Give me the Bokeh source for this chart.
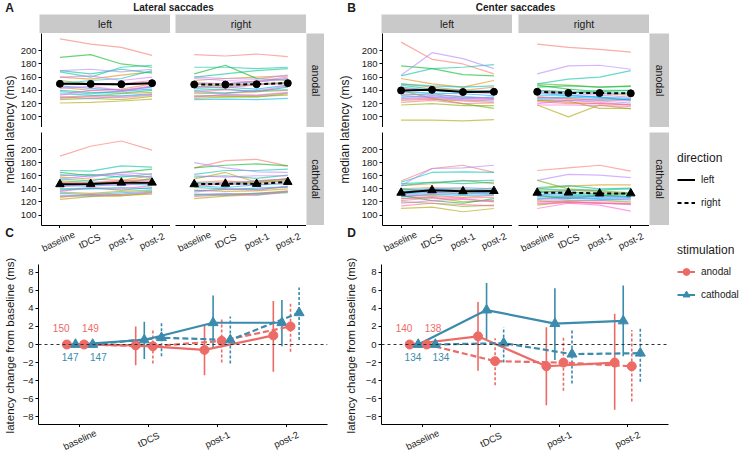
import math
from bokeh.plotting import figure
from bokeh.layouts import row, column
from bokeh.models import (Range1d, LinearAxis, FixedTicker, ColumnDataSource, Label,
                          Span, Legend, LegendItem, Spacer)
from bokeh.embed import file_html
from bokeh.resources import INLINE
from bokeh.core.properties import value

# ---------------- data ----------------
timepoints = ["baseline", "tDCS", "post-1", "post-2"]
time_x = [1, 2, 3, 4]

# individual subjects, median latency (ms); rows = subjects, cols = timepoints
lat_left_anodal = [
    [218, 210, 205, 193], [145, 140, 142, 150], [160, 157, 163, 168], [130, 132, 135, 137],
    [121, 122, 124, 127], [126, 128, 126, 131], [155, 150, 148, 152], [190, 194, 180, 175],
    [140, 137, 136, 140], [170, 165, 172, 166], [168, 160, 175, 178], [150, 155, 158, 170],
    [135, 133, 132, 135], [147, 143, 140, 145], [138, 135, 139, 142], [130, 128, 131, 134],
    [170, 172, 168, 172], [160, 162, 155, 160], [143, 146, 140, 147], [133, 140, 138, 146],
    [152, 148, 150, 155], [128, 131, 129, 133]]
lat_right_anodal = [
    [194, 192, 195, 191], [150, 146, 148, 152], [155, 158, 160, 162], [135, 136, 138, 140],
    [128, 130, 131, 133], [132, 131, 130, 135], [145, 148, 150, 152], [165, 178, 158, 155],
    [140, 142, 138, 145], [160, 165, 170, 173], [175, 175, 173, 175], [150, 150, 153, 158],
    [126, 127, 126, 128], [143, 145, 142, 148], [138, 136, 140, 141], [131, 133, 132, 136],
    [160, 158, 157, 163], [158, 155, 153, 157], [146, 144, 149, 150], [137, 141, 139, 147],
    [152, 150, 154, 160], [130, 134, 133, 137]]
lat_left_cathodal = [
    [190, 205, 213, 199], [150, 148, 152, 155], [158, 155, 153, 160], [135, 133, 136, 138],
    [124, 128, 130, 132], [128, 130, 129, 134], [152, 150, 148, 156], [165, 160, 165, 170],
    [140, 141, 138, 142], [160, 162, 158, 163], [168, 167, 175, 173], [155, 152, 160, 158],
    [133, 131, 134, 136], [145, 144, 147, 146], [138, 140, 142, 140], [130, 129, 132, 135],
    [162, 158, 165, 162], [155, 160, 162, 158], [143, 147, 145, 150], [136, 142, 140, 145],
    [148, 150, 152, 153], [127, 132, 131, 134]]
lat_right_cathodal = [
    [172, 183, 185, 175], [150, 152, 148, 154], [155, 165, 150, 156], [138, 136, 137, 140],
    [125, 129, 131, 134], [130, 132, 133, 137], [148, 146, 150, 152], [172, 176, 178, 175],
    [142, 140, 139, 143], [158, 160, 156, 161], [162, 168, 168, 170], [150, 148, 152, 155],
    [132, 130, 133, 135], [145, 142, 146, 148], [137, 139, 141, 143], [131, 133, 130, 136],
    [180, 172, 166, 165], [160, 158, 160, 160], [144, 148, 146, 150], [135, 140, 138, 144],
    [147, 150, 152, 155], [128, 131, 132, 136]]
cen_left_anodal = [
    [213, 187, 180, 165], [150, 145, 140, 145], [158, 150, 145, 155], [125, 127, 124, 122],
    [95, 95, 94, 96], [118, 120, 117, 117], [140, 128, 120, 113], [177, 173, 164, 162],
    [133, 135, 130, 128], [148, 142, 140, 138], [162, 173, 175, 179], [150, 147, 145, 147],
    [145, 140, 138, 140], [130, 132, 128, 130], [138, 136, 135, 132], [128, 130, 126, 124],
    [163, 197, 188, 173], [135, 133, 131, 128], [132, 130, 128, 127], [127, 128, 125, 126],
    [143, 140, 138, 135], [122, 125, 120, 121]]
cen_right_anodal = [
    [210, 205, 202, 198], [140, 138, 135, 133], [125, 122, 120, 118], [130, 128, 125, 127],
    [118, 100, 118, 112], [125, 124, 113, 113], [150, 148, 145, 147], [148, 142, 138, 140],
    [145, 147, 145, 146], [138, 136, 140, 140], [150, 157, 160, 170], [140, 138, 136, 136],
    [135, 133, 130, 128], [128, 130, 128, 126], [132, 132, 130, 125], [127, 125, 124, 121],
    [165, 177, 178, 172], [136, 135, 133, 130], [120, 125, 122, 118], [118, 118, 117, 116],
    [130, 127, 126, 124], [123, 120, 120, 119]]
cen_left_cathodal = [
    [152, 171, 176, 165], [140, 142, 140, 138], [145, 148, 153, 148], [128, 130, 127, 130],
    [110, 112, 105, 110], [125, 127, 120, 122], [120, 118, 113, 115], [130, 122, 118, 125],
    [140, 135, 132, 135], [148, 150, 148, 150], [150, 165, 166, 165], [145, 150, 152, 153],
    [138, 140, 138, 141], [132, 135, 136, 133], [128, 132, 130, 131], [135, 140, 142, 140],
    [145, 171, 172, 176], [130, 133, 135, 132], [118, 122, 125, 120], [125, 128, 126, 127],
    [122, 126, 124, 121], [114, 118, 116, 114]]
cen_right_cathodal = [
    [168, 172, 176, 167], [135, 138, 135, 133], [140, 144, 146, 146], [125, 128, 130, 128],
    [115, 120, 118, 117], [120, 122, 122, 120], [153, 140, 137, 134], [130, 125, 130, 128],
    [137, 135, 132, 133], [142, 145, 140, 141], [140, 138, 138, 140], [135, 132, 130, 132],
    [128, 127, 125, 126], [132, 130, 128, 127], [124, 126, 124, 123], [130, 128, 127, 129],
    [153, 162, 161, 157], [126, 123, 122, 125], [118, 120, 118, 116], [110, 118, 115, 106],
    [122, 120, 119, 118], [117, 119, 118, 117]]

# group means (ms)
lat_left_anodal_mean = [150, 149.8, 149.4, 151.0]
lat_right_anodal_mean = [149, 148.8, 149.4, 151.0]
lat_left_cathodal_mean = [147, 147.5, 149.4, 149.4]
lat_right_cathodal_mean = [147, 147.8, 147.5, 150.5]
cen_left_anodal_mean = [140, 140.9, 137.6, 138.0]
cen_right_anodal_mean = [138, 136.2, 136.0, 135.6]
cen_left_cathodal_mean = [134, 137.8, 136.3, 136.6]
cen_right_cathodal_mean = [134, 134.2, 132.9, 133.0]

# change from baseline (ms), with interval limits
lat_chg_an_left = [0, -0.1, -0.6, 1.0]
lat_chg_an_left_lo = [0, -2.3, -3.4, -3.0]
lat_chg_an_left_hi = [0, 2.0, 2.2, 4.8]
lat_chg_ca_left = [0, 0.5, 2.4, 2.4]
lat_chg_ca_left_lo = [0, -1.6, -0.5, -0.2]
lat_chg_ca_left_hi = [0, 2.5, 5.4, 4.9]
lat_chg_an_right = [0, -0.2, 0.4, 2.0]
lat_chg_an_right_lo = [0, -2.1, -2.0, -0.8]
lat_chg_an_right_hi = [0, 1.7, 2.8, 4.7]
lat_chg_ca_right = [0, 0.75, 0.5, 3.5]
lat_chg_ca_right_lo = [0, -1.3, -2.1, 0.5]
lat_chg_ca_right_hi = [0, 2.5, 3.1, 6.3]

cen_chg_an_left = [0, 0.9, -2.4, -2.0]
cen_chg_an_left_lo = [0, -2.9, -6.7, -7.2]
cen_chg_an_left_hi = [0, 4.7, 1.9, 3.4]
cen_chg_ca_left = [0, 3.8, 2.3, 2.6]
cen_chg_ca_left_lo = [0, 0.6, -1.7, -1.3]
cen_chg_ca_left_hi = [0, 6.8, 6.2, 6.5]
cen_chg_an_right = [0, -1.84, -2.0, -2.4]
cen_chg_an_right_lo = [0, -4.5, -5.1, -6.3]
cen_chg_an_right_hi = [0, 0.7, 0.8, 1.6]
cen_chg_ca_right = [0, 0.15, -1.06, -0.96]
cen_chg_ca_right_lo = [0, -2.0, -4.3, -4.1]
cen_chg_ca_right_hi = [0, 1.9, 1.6, 1.8]

lat_ticks = [100, 120, 140, 160, 180, 200]
chg_ticks = [-8, -6, -4, -2, 0, 2, 4, 6, 8]

# ---------------- style ----------------
FONT = "Liberation Sans"
RED = "#EC6B67"
BLUE = "#3B8BAD"
STRIP = "#C9C9C9"
TXT = "#1a1a1a"
SX = 740 / 756
SY = 451 / 467
XR = (0.4, 4.6)
LAT_RANGE = (84, 226)
CHG_RANGE = (-8.83, 8.83)
TICK_H = 3


def X(v):
    return int(round(v * SX))


def Y(v):
    return int(round(v * SY))


def hue_colors(n):
    out = []
    Xn, Yn, Zn = 95.047, 100.0, 108.883
    un = 4 * Xn / (Xn + 15 * Yn + 3 * Zn)
    vn = 9 * Yn / (Xn + 15 * Yn + 3 * Zn)
    L, C = 65.0, 100.0
    for i in range(n):
        h = math.radians(15 + 360.0 * i / n)
        u, v = C * math.cos(h), C * math.sin(h)
        Yv = Yn * ((L + 16) / 116) ** 3
        up = u / (13 * L) + un
        vp = v / (13 * L) + vn
        Xv = Yv * 9 * up / (4 * vp)
        Zv = Yv * (12 - 3 * up - 20 * vp) / (4 * vp)
        Xv, Yv2, Zv = Xv / 100, Yv / 100, Zv / 100
        r = 3.2404542 * Xv - 1.5371385 * Yv2 - 0.4985314 * Zv
        g = -0.9692660 * Xv + 1.8760108 * Yv2 + 0.0415560 * Zv
        b = 0.0556434 * Xv - 0.2040259 * Yv2 + 1.0572252 * Zv
        rgb = []
        for c in (r, g, b):
            c = 12.92 * c if c <= 0.0031308 else 1.055 * (max(c, 0) ** (1 / 2.4)) - 0.055
            rgb.append(min(255, max(0, int(round(c * 255)))))
        out.append("#%02x%02x%02x" % tuple(rgb))
    return out


SUBJ_COLORS = hue_colors(len(lat_left_anodal))


def base_fig(w, h, **kw):
    p = figure(width=w, height=h, toolbar_location=None, output_backend="svg",
               x_axis_type=None, y_axis_type=None, min_border=0, **kw)
    p.outline_line_color = None
    return p


def text_panel(w, h, items, bg=None):
    p = base_fig(w, h, x_range=Range1d(0, w), y_range=Range1d(h, 0))
    if bg:
        p.background_fill_color = bg
        p.border_fill_color = bg
    for (x, y, txt, size, style, angle) in items:
        p.add_layout(Label(x=x, y=y, text=txt, text_font=FONT, text_font_size=size,
                           text_font_style=style, angle=angle, text_align="center",
                           text_baseline="middle", text_color=TXT))
    return p


def tick_strip(w, h, bl, br):
    """Rotated, centred time-point tick labels, on the same x scale as the plot above."""
    k = (XR[1] - XR[0]) / (w - bl - br)
    p = base_fig(w, h, x_range=Range1d(XR[0] - bl * k, XR[1] + br * k), y_range=Range1d(h, 0))
    for t, lab in zip(time_x, timepoints):
        p.add_layout(Label(x=t, y=h / 2.0, text=lab, angle=0.44, text_align="center",
                           text_baseline="middle", text_font=FONT, text_font_size="9.5px",
                           text_color=TXT))
    return row(p)


def style_axis(ax):
    ax.axis_line_color = "black"
    ax.axis_line_width = 1
    ax.major_tick_line_color = "black"
    ax.major_tick_in = 0
    ax.major_tick_out = 3
    ax.minor_tick_line_color = None
    ax.major_label_text_font = FONT
    ax.major_label_text_font_size = "9.5px"
    ax.major_label_text_color = TXT
    ax.major_label_standoff = 2


def add_time_axis(p):
    ax = LinearAxis(ticker=FixedTicker(ticks=time_x),
                    major_label_overrides={t: "" for t in time_x})
    style_axis(ax)
    ax.major_label_text_font_size = "1px"
    ax.major_label_standoff = 0
    p.add_layout(ax, "below")


def facet_fig(w, h, bl, bb, subj, mean, dashed, marker, yaxis, xaxis):
    p = base_fig(w, h, x_range=Range1d(*XR), y_range=Range1d(*LAT_RANGE),
                 min_border_left=bl, min_border_bottom=bb)
    src = ColumnDataSource(dict(xs=[time_x] * len(subj), ys=subj, c=SUBJ_COLORS[:len(subj)]))
    p.multi_line("xs", "ys", source=src, line_color="c", line_alpha=0.6, line_width=1.2)
    p.line(time_x, mean, line_color="black", line_width=2,
           line_dash="4 3" if dashed else "solid")
    p.scatter(time_x, mean, marker=marker, size=7 if marker == "circle" else 8.5, color="black")
    if yaxis:
        ax = LinearAxis(ticker=FixedTicker(ticks=lat_ticks))
        style_axis(ax)
        p.add_layout(ax, "left")
    if xaxis:
        add_time_axis(p)
    return p


def block(xs, letter, letter_x, title, title_x, ylab_x, corner, corner_x, facets):
    (al, al_m, ar, ar_m, cl, cl_m, cr, cr_m) = facets
    x0 = xs[0]
    wt = X(xs[7]) - X(x0)
    ttl = text_panel(wt, Y(15) - Y(0), [
        (X(letter_x) - X(x0), Y(7), letter, "12px", "bold", 0),
        (X(title_x) - X(x0), Y(7), title, "10px", "bold", 0)])
    ylab = text_panel(X(xs[1]) - X(x0), Y(262) - Y(15), [
        (X(ylab_x) - X(x0), Y(133.5) - Y(15), "median latency (ms)", "12px", "normal", math.pi / 2),
        (X(corner_x) - X(x0), Y(240) - Y(15), corner, "12px", "bold", 0)])
    wl = X(xs[3]) - X(xs[1])
    bl = X(xs[2]) - X(xs[1])
    gap = X(xs[4]) - X(xs[3])
    wr = X(xs[5]) - X(xs[4])
    ws = X(xs[6]) - X(xs[5])
    wp = X(xs[7]) - X(xs[6])
    hh = Y(34) - Y(15)
    ha = Y(131) - Y(34)
    hg = Y(137) - Y(131)
    hc = Y(233) - Y(137)
    hb = Y(262) - Y(233)
    head = row(Spacer(width=bl, height=hh),
               text_panel(wl - bl, hh, [((wl - bl) / 2, hh / 2, "left", "10.5px", "normal", 0)], STRIP),
               Spacer(width=gap, height=hh),
               text_panel(wr, hh, [(wr / 2, hh / 2, "right", "10.5px", "normal", 0)], STRIP),
               Spacer(width=ws + wp, height=hh))
    an = row(facet_fig(wl, ha, bl, 0, al, al_m, False, "circle", True, False),
             Spacer(width=gap, height=ha),
             facet_fig(wr, ha, 0, 0, ar, ar_m, True, "circle", False, False),
             text_panel(ws, ha, [(ws / 2, ha / 2, "anodal", "10.5px", "normal", -math.pi / 2)], STRIP),
             Spacer(width=wp, height=ha))
    ca = row(facet_fig(wl, hc + TICK_H, bl, TICK_H, cl, cl_m, False, "triangle", True, True),
             Spacer(width=gap, height=hc + TICK_H),
             facet_fig(wr, hc + TICK_H, 0, TICK_H, cr, cr_m, True, "triangle", False, True),
             column(text_panel(ws, hc, [(ws / 2, hc / 2, "cathodal", "10.5px", "normal", -math.pi / 2)], STRIP),
                    Spacer(width=ws, height=TICK_H)),
             Spacer(width=wp, height=hc + TICK_H))
    hs = hb - TICK_H
    ticks = row(tick_strip(wl, hs, bl, 0),
                tick_strip(gap + wr + ws + wp, hs, gap, ws + wp))
    grid = column(head, an, Spacer(width=wl + gap + wr + ws + wp, height=hg), ca, ticks)
    return column(row(ttl), row(ylab, grid))


def change_fig(x0, xlab, xl, xr, x1, ylab_x, groups, base_means):
    hrow = Y(467) - Y(262)
    ylab = text_panel(X(xlab) - X(x0), hrow, [
        (X(ylab_x) - X(x0), Y(357) - Y(262), "latency change from baseline (ms)", "11.5px",
         "normal", math.pi / 2)])
    w = X(x1) - X(xlab)
    bt = Y(273) - Y(262)
    h = Y(439) - Y(262) + TICK_H
    bl = X(xl) - X(xlab)
    br = X(x1) - X(xr)
    p = base_fig(w, h, x_range=Range1d(*XR), y_range=Range1d(*CHG_RANGE),
                 min_border_left=bl, min_border_right=br,
                 min_border_top=bt, min_border_bottom=TICK_H)
    ax = LinearAxis(ticker=FixedTicker(ticks=chg_ticks),
                    major_label_overrides={t: str(t).replace("-", "\u2212") for t in chg_ticks})
    style_axis(ax)
    p.add_layout(ax, "left")
    add_time_axis(p)
    p.add_layout(Span(location=0, dimension="width", line_color="#333333",
                      line_dash="3 3", line_width=1))
    dodge = [-0.1875, -0.0625, 0.0625, 0.1875]
    styles = [(RED, False, "circle"), (BLUE, False, "triangle"),
              (RED, True, "circle"), (BLUE, True, "triangle")]
    for (m, lo, hi), d, (c, dashed, mk) in zip(groups, dodge, styles):
        xs = [t + d for t in time_x]
        p.segment(xs, lo, xs, hi, line_color=c, line_width=1.6,
                  line_dash="3 2" if dashed else "solid")
    for (m, lo, hi), d, (c, dashed, mk) in zip(groups, dodge, styles):
        xs = [t + d for t in time_x]
        p.line(xs, m, line_color=c, line_width=2.2, line_dash="6 3" if dashed else "solid")
    for (m, lo, hi), d, (c, dashed, mk) in zip(groups, dodge, styles):
        xs = [t + d for t in time_x]
        p.scatter(xs, m, marker=mk, size=9 if mk == "circle" else 10, color=c)
    # baseline latency labels
    label_dx = [-0.27, -0.14, 0.155, 0.27]
    label_y = [1.8, -1.4, 1.8, -1.4]
    for bm, dx, ly, (c, dashed, mk) in zip(base_means, label_dx, label_y, styles):
        p.text([time_x[0] + dx], [ly], text=["%d" % round(bm[0])], text_color=c,
               text_font=value(FONT), text_font_size="10px", text_align="center",
               text_baseline="middle")
    hs = hrow - h
    return row(ylab, column(row(p), tick_strip(w, hs, bl, br)))


A = block([0, 17, 40, 174, 179, 313, 331, 335], "A", 9, "Lateral saccades", 176.5, 9, "C", 9,
          (lat_left_anodal, lat_left_anodal_mean, lat_right_anodal, lat_right_anodal_mean,
           lat_left_cathodal, lat_left_cathodal_mean, lat_right_cathodal, lat_right_cathodal_mean))
B = block([335, 366, 389, 523, 529, 663, 683, 690], "B", 359, "Center saccades", 526, 351, "D", 359,
          (cen_left_anodal, cen_left_anodal_mean, cen_right_anodal, cen_right_anodal_mean,
           cen_left_cathodal, cen_left_cathodal_mean, cen_right_cathodal, cen_right_cathodal_mean))

Cfig = change_fig(0, 17, 39, 334, 335, 9,
                  [(lat_chg_an_left, lat_chg_an_left_lo, lat_chg_an_left_hi),
                   (lat_chg_ca_left, lat_chg_ca_left_lo, lat_chg_ca_left_hi),
                   (lat_chg_an_right, lat_chg_an_right_lo, lat_chg_an_right_hi),
                   (lat_chg_ca_right, lat_chg_ca_right_lo, lat_chg_ca_right_hi)],
                  [lat_left_anodal_mean, lat_left_cathodal_mean, lat_right_anodal_mean, lat_right_cathodal_mean])
Dfig = change_fig(335, 367, 389, 682, 690, 358,
                  [(cen_chg_an_left, cen_chg_an_left_lo, cen_chg_an_left_hi),
                   (cen_chg_ca_left, cen_chg_ca_left_lo, cen_chg_ca_left_hi),
                   (cen_chg_an_right, cen_chg_an_right_lo, cen_chg_an_right_hi),
                   (cen_chg_ca_right, cen_chg_ca_right_lo, cen_chg_ca_right_hi)],
                  [cen_left_anodal_mean, cen_left_cathodal_mean, cen_right_anodal_mean, cen_right_cathodal_mean])

# legend panel
lw, lh = X(756) - X(690), Y(467)
L = base_fig(lw, lh, x_range=Range1d(0, 1), y_range=Range1d(0, 1))
r_left = L.line([5, 6], [5, 6], line_color="black", line_width=2)
r_right = L.line([5, 6], [5, 6], line_color="black", line_width=2, line_dash="4 3")
r_an_l = L.line([5, 6], [5, 6], line_color=RED, line_width=2)
r_an_p = L.scatter([5], [5], marker="circle", size=9, color=RED)
r_ca_l = L.line([5, 6], [5, 6], line_color=BLUE, line_width=2)
r_ca_p = L.scatter([5], [5], marker="triangle", size=10, color=BLUE)


def make_legend(title, items, top_ref):
    leg = Legend(items=items, title=title)
    leg.title_text_font = FONT
    leg.title_text_font_size = "12px"
    leg.title_text_font_style = "normal"
    leg.title_text_color = TXT
    leg.label_text_font = FONT
    leg.label_text_font_size = "10px"
    leg.label_text_color = TXT
    leg.glyph_width = 18
    leg.glyph_height = 17
    leg.label_height = 17
    leg.label_standoff = 6
    leg.spacing = 6
    leg.padding = 0
    leg.margin = 0
    leg.title_standoff = 6
    leg.border_line_color = None
    leg.background_fill_alpha = 0
    n = len(items)
    height = 14 + 6 + n * 17 + (n - 1) * 6
    leg.location = (X(692) - X(690), lh - Y(top_ref) - height)
    return leg


L.add_layout(make_legend("direction", [LegendItem(label="left", renderers=[r_left]),
                                       LegendItem(label="right", renderers=[r_right])], 156))
L.add_layout(make_legend("stimulation", [LegendItem(label="anodal", renderers=[r_an_l, r_an_p]),
                                         LegendItem(label="cathodal", renderers=[r_ca_l, r_ca_p])], 252))

layout = row(column(row(A, B), row(Cfig, Dfig)), row(L))

open("out.html", "w").write(file_html(layout, INLINE))
